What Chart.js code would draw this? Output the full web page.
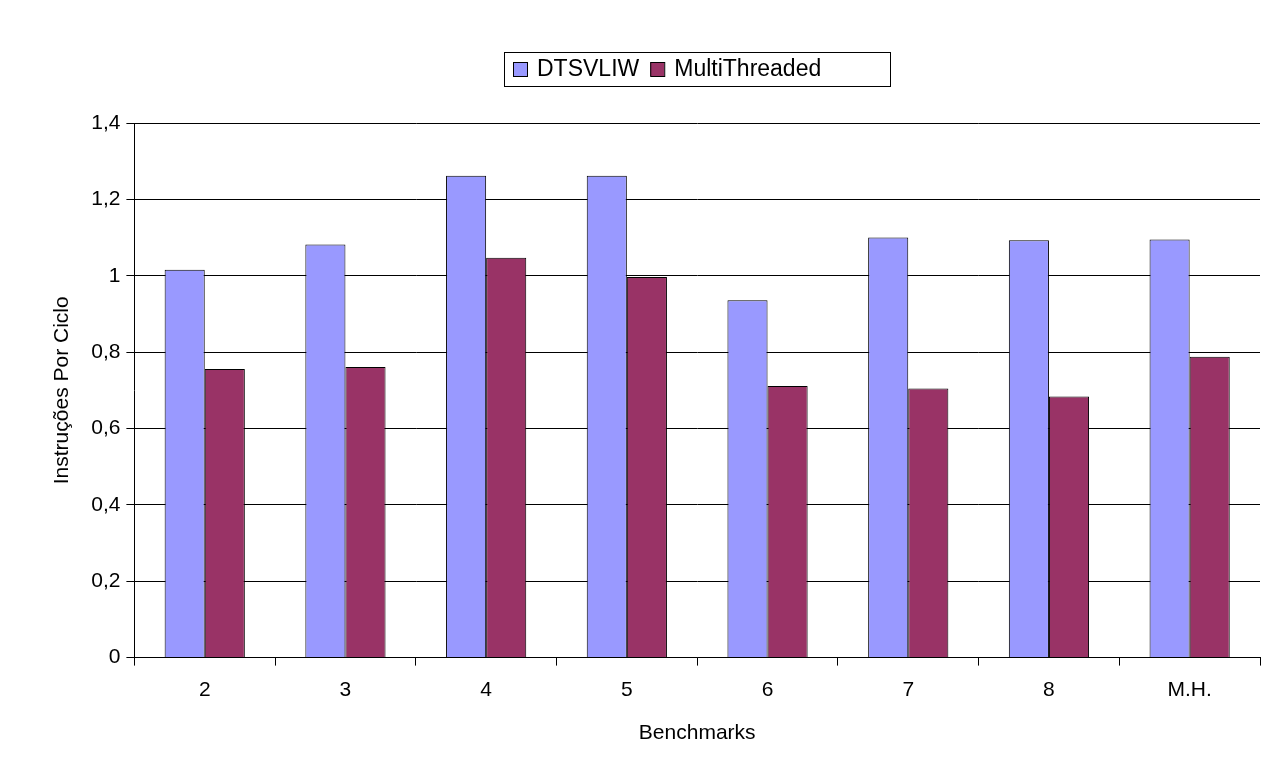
<!DOCTYPE html>
<html><head><meta charset="utf-8">
<script src="https://cdn.jsdelivr.net/npm/chart.js@4"></script>
<style>html,body{margin:0;background:#fff}#w{width:1282px;height:780px}</style>
</head><body><div id="w"><canvas id="c"></canvas></div>
<script>
const categories = ['2','3','4','5','6','7','8','M.H.'];
const dtsvliw = [1.016,1.082,1.262,1.262,0.936,1.100,1.093,1.095];
const multiThreaded = [0.756,0.761,1.047,0.997,0.711,0.705,0.684,0.788];
const seriesNames = ['DTSVLIW','MultiThreaded'];
const colors = ['#9999ff','#993366'];
const F = "'Liberation Sans', Arial, sans-serif";

const legendBox = {
  id:'legendBox',
  afterDraw(chart){
    const ctx = chart.ctx;
    const x0=504,y0=52,w=386,h=34;
    ctx.save();
    ctx.fillStyle='#fff';ctx.fillRect(x0,y0,w,h);
    ctx.strokeStyle='#000';ctx.lineWidth=1;ctx.strokeRect(x0+0.5,y0+0.5,w,h);
    ctx.font='23px '+F;ctx.textBaseline='middle';
    let x=x0+9;
    seriesNames.forEach((n,i)=>{
      ctx.fillStyle=colors[i];ctx.fillRect(x,y0+10,14,14);
      ctx.strokeRect(x+0.5,y0+10.5,14,14);
      ctx.fillStyle='#000';ctx.fillText(n,x+24,y0+h/2+1);
      x+=24+ctx.measureText(n).width+11;
    });
    ctx.restore();
  }
};

new Chart(document.getElementById('c'),{
  type:'bar',
  data:{labels:categories,datasets:[
    {label:seriesNames[0],data:dtsvliw,backgroundColor:colors[0],borderColor:'#000',borderWidth:1},
    {label:seriesNames[1],data:multiThreaded,backgroundColor:colors[1],borderColor:'#000',borderWidth:1}
  ]},
  options:{
    responsive:true,maintainAspectRatio:false,animation:false,
    devicePixelRatio:1,
    layout:{padding:{top:123,right:22,left:46,bottom:30}},
    datasets:{bar:{categoryPercentage:0.57,barPercentage:1}},
    plugins:{legend:{display:false},tooltip:{enabled:false}},
    scales:{
      x:{
        grid:{offset:true,drawOnChartArea:false,color:'#000',tickLength:8},
        border:{color:'#000'},
        ticks:{color:'#000',font:{family:F,size:21},padding:12},
        title:{display:true,text:'Benchmarks',color:'#000',font:{family:F,size:21},padding:{top:6}}
      },
      y:{
        min:0,max:1.4,
        grid:{color:'#000',tickLength:8},
        border:{color:'#000'},
        ticks:{stepSize:0.2,color:'#000',font:{family:F,size:21},padding:6,
          callback:v=>String(Math.round(v*10)/10).replace('.',',')},
        title:{display:true,text:'Instruções Por Ciclo',color:'#000',font:{family:F,size:21},padding:{bottom:10}}
      }
    }
  },
  plugins:[legendBox]
});
</script></body></html>
